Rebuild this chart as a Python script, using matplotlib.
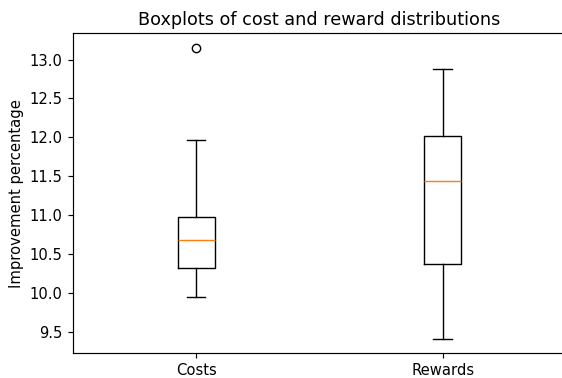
import matplotlib
matplotlib.use("Agg")
import matplotlib.pyplot as plt

# summary statistics of the improvement percentages
labels = ["Costs", "Rewards"]
medians = [10.68, 11.44]
q1 = [10.32, 10.37]
q3 = [10.98, 12.02]
whislo = [9.95, 9.41]
whishi = [11.96, 12.88]
fliers = [[13.15], []]

stats = []
for i in range(len(labels)):
    stats.append({"label": labels[i], "med": medians[i], "q1": q1[i], "q3": q3[i],
                  "whislo": whislo[i], "whishi": whishi[i], "fliers": fliers[i]})

plt.rcParams["font.size"] = 10.6
plt.rcParams["axes.titlesize"] = 12.7
plt.rcParams["lines.linewidth"] = 1.06
plt.rcParams["axes.linewidth"] = 0.85
plt.rcParams["xtick.major.width"] = 0.85
plt.rcParams["ytick.major.width"] = 0.85
plt.rcParams["xtick.major.size"] = 3.7
plt.rcParams["ytick.major.size"] = 3.7

fig, ax = plt.subplots(figsize=(5.62, 3.78), dpi=100)
ax.bxp(stats, widths=0.15)
ax.set_title("Boxplots of cost and reward distributions")
ax.set_ylabel("Improvement percentage")
ax.set_xlim(0.5, 2.5)
fig.subplots_adjust(left=0.1294, right=1.0071, top=0.9119, bottom=0.0653)
fig.savefig("out.png")
